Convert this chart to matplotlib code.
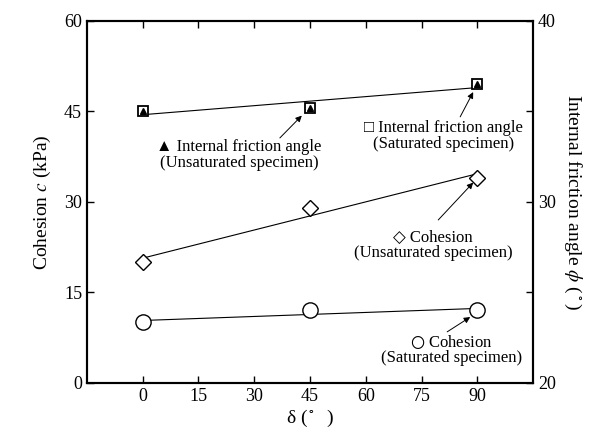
import numpy as np
import matplotlib.pyplot as plt
from matplotlib.ticker import MultipleLocator

plt.rcParams['font.family'] = ['Liberation Serif', 'DejaVu Sans']
plt.rcParams['mathtext.fontset'] = 'stix'

# 试验数据
delta = [0, 45, 90]
c_unsat = [20.0, 29.0, 34.0]    # 黏聚力 (非饱和)
c_sat = [10.0, 12.0, 12.0]      # 黏聚力 (饱和)
phi_unsat = [35.0, 35.2, 36.5]  # 内摩擦角 (非饱和)
phi_sat = [35.0, 35.2, 36.5]    # 内摩擦角 (饱和)

x_ticks = [0, 15, 30, 45, 60, 75, 90]
c_ticks = [0, 15, 30, 45, 60]
phi_ticks = [20, 30, 40]


def fit_line(x, y):
    k, b = np.polyfit(x, y, 1)
    xx = np.array([min(x), max(x)])
    return xx, k * xx + b


fig = plt.figure(figsize=(6.12, 4.36), dpi=100)
ax = fig.add_axes([0.142, 0.122, 0.729, 0.830])
ax2 = ax.twinx()

# 黏聚力
xx, yy = fit_line(delta, c_unsat)
ax.plot(xx, yy, color='black', lw=0.8)
ax.plot(delta, c_unsat, 'D', ms=8, mfc='white', mec='black', mew=1.0)
xx, yy = fit_line(delta, c_sat)
ax.plot(xx, yy, color='black', lw=0.8)
ax.plot(delta, c_sat, 'o', ms=11, mfc='white', mec='black', mew=1.0)

# 内摩擦角
xx, yy = fit_line(delta, phi_sat)
ax2.plot(xx, yy, color='black', lw=0.8)
ax2.plot(delta, phi_sat, 's', ms=7.5, mfc='white', mec='black', mew=1.3)
ax2.plot(delta, phi_unsat, '^', ms=4.5, color='black')

ax.set_xlim(-15, 105)
ax.set_ylim(0, 60)
ax2.set_ylim(20, 40)
ax.set_xticks(x_ticks)
ax.set_yticks(c_ticks)
ax2.set_yticks(phi_ticks)
ax2.yaxis.set_minor_locator(MultipleLocator(5))

ax.tick_params(axis='both', direction='in', length=5, width=1, labelsize=13,
               top=True)
ax2.tick_params(axis='y', which='both', direction='in', length=5, width=1,
                labelsize=13)
for a in (ax, ax2):
    for s in a.spines.values():
        s.set_linewidth(1.5)

ax.set_xlabel(r'δ ($^\circ$  )', fontsize=14, labelpad=2)
ax.set_ylabel(r'Cohesion $c$ (kPa)', fontsize=14, labelpad=8)
ax2.set_ylabel(r'Internal friction angle $\phi$ ($^\circ$)', fontsize=14,
               rotation=-90, labelpad=20)

# 标注
arrow = dict(arrowstyle='-|>', color='black', lw=0.7, mutation_scale=9,
             shrinkA=0, shrinkB=0)
txt = dict(ha='center', va='center', multialignment='center', fontsize=12,
           linespacing=0.95)
ax.annotate('', xy=(42.8, 44.3), xytext=(36.9, 40.6), arrowprops=arrow)
ax.text(25.9, 37.8, '▲ Internal friction angle\n(Unsaturated specimen)', **txt)
ax.annotate('', xy=(88.9, 48.2), xytext=(85.4, 44.1), arrowprops=arrow)
ax.text(80.8, 40.9, '□ Internal friction angle\n(Saturated specimen)', **txt)
ax.annotate('', xy=(88.9, 33.2), xytext=(79.5, 27.0), arrowprops=arrow)
ax.text(78.1, 22.8, '◇ Cohesion\n(Unsaturated specimen)', **txt)
ax.annotate('', xy=(88.1, 10.9), xytext=(81.9, 8.45), arrowprops=arrow)
ax.text(83.0, 5.5, '$○$ Cohesion\n(Saturated specimen)', **txt)

fig.savefig('out.png', dpi=100)
